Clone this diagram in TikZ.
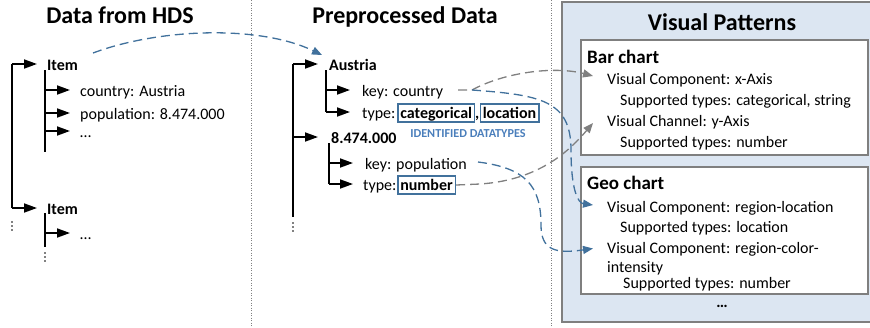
\documentclass[tikz,border=0pt]{standalone}
\usepackage{fontspec}
\setmainfont{Carlito}
\usetikzlibrary{arrows.meta}
\definecolor{dblue}{HTML}{41719C}
\definecolor{lblue}{HTML}{4A7EBB}
\definecolor{pfill}{HTML}{DCE6F2}
\definecolor{bgray}{HTML}{7F7F7F}
\definecolor{dgray}{HTML}{808080}
\begin{document}
\begin{tikzpicture}[x=1pt,y=-1pt,
  txt/.style={inner sep=0pt, anchor=west, text height=12pt, text depth=0pt, font=\fontsize{16}{19}\selectfont},
  btxt/.style={txt, font=\fontsize{16}{19}\selectfont\bfseries},
  title/.style={inner sep=0pt, anchor=base, font=\fontsize{24}{28}\selectfont\bfseries},
  ctitle/.style={inner sep=0pt, anchor=base west, font=\fontsize{19}{23}\selectfont\bfseries},
  ptxt/.style={inner sep=0pt, anchor=base west, font=\fontsize{16}{19}\selectfont},
  tline/.style={line width=1.8pt},
  tarrow/.style={line width=1.8pt, -{Triangle[length=13pt,width=9pt]}},
  dtbox/.style={draw=dblue, line width=1.6pt, inner xsep=2.5pt, inner ysep=1.5pt, text height=12.5pt, text depth=2.5pt, anchor=west, font=\fontsize{16}{19}\selectfont\bfseries},
  gdash/.style={draw=dgray, line width=1.3pt, dash pattern=on 9pt off 5pt, -{Triangle[length=10pt,width=8pt]}},
  bdash/.style={draw=dblue, line width=1.3pt, dash pattern=on 9pt off 5pt, -{Triangle[length=10pt,width=8pt]}},
  sepline/.style={draw=gray, line width=0.8pt, dash pattern=on 1pt off 1.5pt},
  panel/.style={fill=pfill, draw=bgray, line width=2.5pt},
  chartbox/.style={fill=white, draw=bgray, line width=2.5pt},
  dtlabel/.style={inner sep=0pt, anchor=base, text=lblue, font=\fontsize{12.2}{14}\selectfont\bfseries}
]
\useasboundingbox (0,0) rectangle (870,327);
\clip (0,0) rectangle (870,327);

% separators
\draw[sepline] (251,0) -- (251,327);
\draw[sepline] (551,0) -- (551,327);

% titles
\node[title] (t1) at (120,23) {Data from HDS};
\node[title] (t2) at (405,23) {Preprocessed Data};

% ---------- left tree ----------
\coordinate (L0) at (12,64);
\coordinate (L0b) at (12,208);
\node[btxt] (item1) at (47,64) {Item};
\node[btxt] (item2) at (47,208) {Item};
\draw[tline] (L0b) -- (L0);
\draw[tarrow] (L0) -- ([xshift=-10pt]item1.west);
\draw[tarrow] (L0b) -- ([xshift=-10pt]item2.west);
\foreach \yy in {222,226,230} \fill (12,\yy) circle (0.8pt);

\coordinate (I1t) at (45,70);
\coordinate (I1b) at (45,152);
\node[txt] (c1) at (80,90) {country: Austria};
\node[txt] (c2) at (80,113) {population: 8.474.000};
\node[txt] (c3) at (80,131) {…};
\draw[tline] (I1t) -- (I1b);
\draw[tarrow] (I1t |- c1.west) -- ([xshift=-10pt]c1.west);
\draw[tarrow] (I1t |- c2.west) -- ([xshift=-10pt]c2.west);
\draw[tarrow] (I1t |- c3.west) -- ([xshift=-10pt]c3.west);

\coordinate (I2t) at (45,213);
\coordinate (I2b) at (45,247);
\node[txt] (d1) at (80,233) {…};
\draw[tline] (I2t) -- (I2b);
\draw[tarrow] (I2t |- d1.west) -- ([xshift=-10pt]d1.west);
\foreach \yy in {253,257,261} \fill (45,\yy) circle (0.8pt);

% ---------- middle tree ----------
\coordinate (M0) at (293,64);
\coordinate (M0b) at (293,217);
\node[btxt] (austria) at (329,64) {Austria};
\node[btxt] (num) at (331,137) {8.474.000};
\draw[tline] (M0) -- (M0b);
\draw[tarrow] (M0) -- ([xshift=-11pt]austria.west);
\draw[tarrow] (M0 |- num.west) -- ([xshift=-13pt]num.west);
\foreach \yy in {223,227,231} \fill (293,\yy) circle (0.8pt);

\coordinate (A1t) at (326,70);
\node[txt] (kc) at (362,90) {key: country};
\node[txt] (tc) at (362,112) {type:};
\draw[tline] (A1t) -- (A1t |- tc.west);
\draw[tarrow] (A1t |- kc.west) -- ([xshift=-12pt]kc.west);
\draw[tarrow] (A1t |- tc.west) -- ([xshift=-12pt]tc.west);
\node[dtbox] (catbox) at (397,113) {categorical};
\node[inner sep=0pt, anchor=base west, font=\fontsize{16}{19}\selectfont\bfseries] (comma) at (475,118) {,};
\node[dtbox] (locbox) at (479.5,113) {location};
\node[dtlabel] (idl) at (468,137) {IDENTIFIED DATATYPES};

\coordinate (N1t) at (329,143);
\node[txt] (kp) at (365,163) {key: population};
\node[txt] (tp) at (363,184) {type:};
\draw[tline] (N1t) -- (N1t |- tp.west);
\draw[tarrow] (N1t |- kp.west) -- ([xshift=-12pt]kp.west);
\draw[tarrow] (N1t |- tp.west) -- ([xshift=-10pt]tp.west);
\node[dtbox] (numbox) at (397,185) {number};

% ---------- right panel ----------
\draw[panel] (562,2) rectangle (885,322);
\node[title] (t3) at (722,30) {Visual Patterns};

\draw[chartbox] (581,40) rectangle (868,155);
\node[ctitle] (bar) at (587,63) {Bar chart};
\node[ptxt] (bcx) at (607,84) {Visual Component: x-Axis};
\node[ptxt] (bst1) at (620,105) {Supported types: categorical, string};
\node[ptxt] (bcy) at (607,126) {Visual Channel: y-Axis};
\node[ptxt] (bst2) at (620,147) {Supported types: number};

\draw[chartbox] (581,167) rectangle (868,294);
\node[ctitle] (geo) at (587,189) {Geo chart};
\node[ptxt] (rl) at (607,212) {Visual Component: region-location};
\node[ptxt] (gst1) at (620,232) {Supported types: location};
\node[ptxt] (rc) at (607,253) {Visual Component: region-color-};
\node[ptxt] (rc2) at (607,272) {intensity};
\node[ptxt] (gst2) at (623,288) {Supported types: number};
\node[inner sep=0pt, anchor=base, font=\fontsize{16}{19}\selectfont\bfseries] (more) at (722,307) {…};

% ---------- connectors ----------
\coordinate (i1out) at (93,53);
\draw[bdash] (i1out) .. controls (160,28) and (260,25) .. ([xshift=-7pt,yshift=9pt]austria.west);

\coordinate (kcout) at (458,90);
\coordinate (kcblue) at (472,90);
\coordinate (kpout) at (478,162);
\draw[gdash] (kcout) -- (kcblue) .. controls (505,72) and (555,66) .. ([xshift=-14pt,yshift=8pt]bcx.base west);
\draw[bdash] (kcblue) .. controls (540,95) and (571,100) .. (571,150) .. controls (571,190) and (578,203) .. ([xshift=-14pt,yshift=7pt]rl.base west);
\draw[gdash] (numbox.east) -- ++(24,-1) .. controls (540,180) and (570,150) .. ([xshift=-14pt,yshift=3pt]bcy.base west);
\draw[bdash] (kpout) .. controls (525,168) and (541,185) .. (541,225) .. controls (541,250) and (555,254) .. ([xshift=-14pt,yshift=4.5pt]rc.base west);
\end{tikzpicture}
\end{document}
